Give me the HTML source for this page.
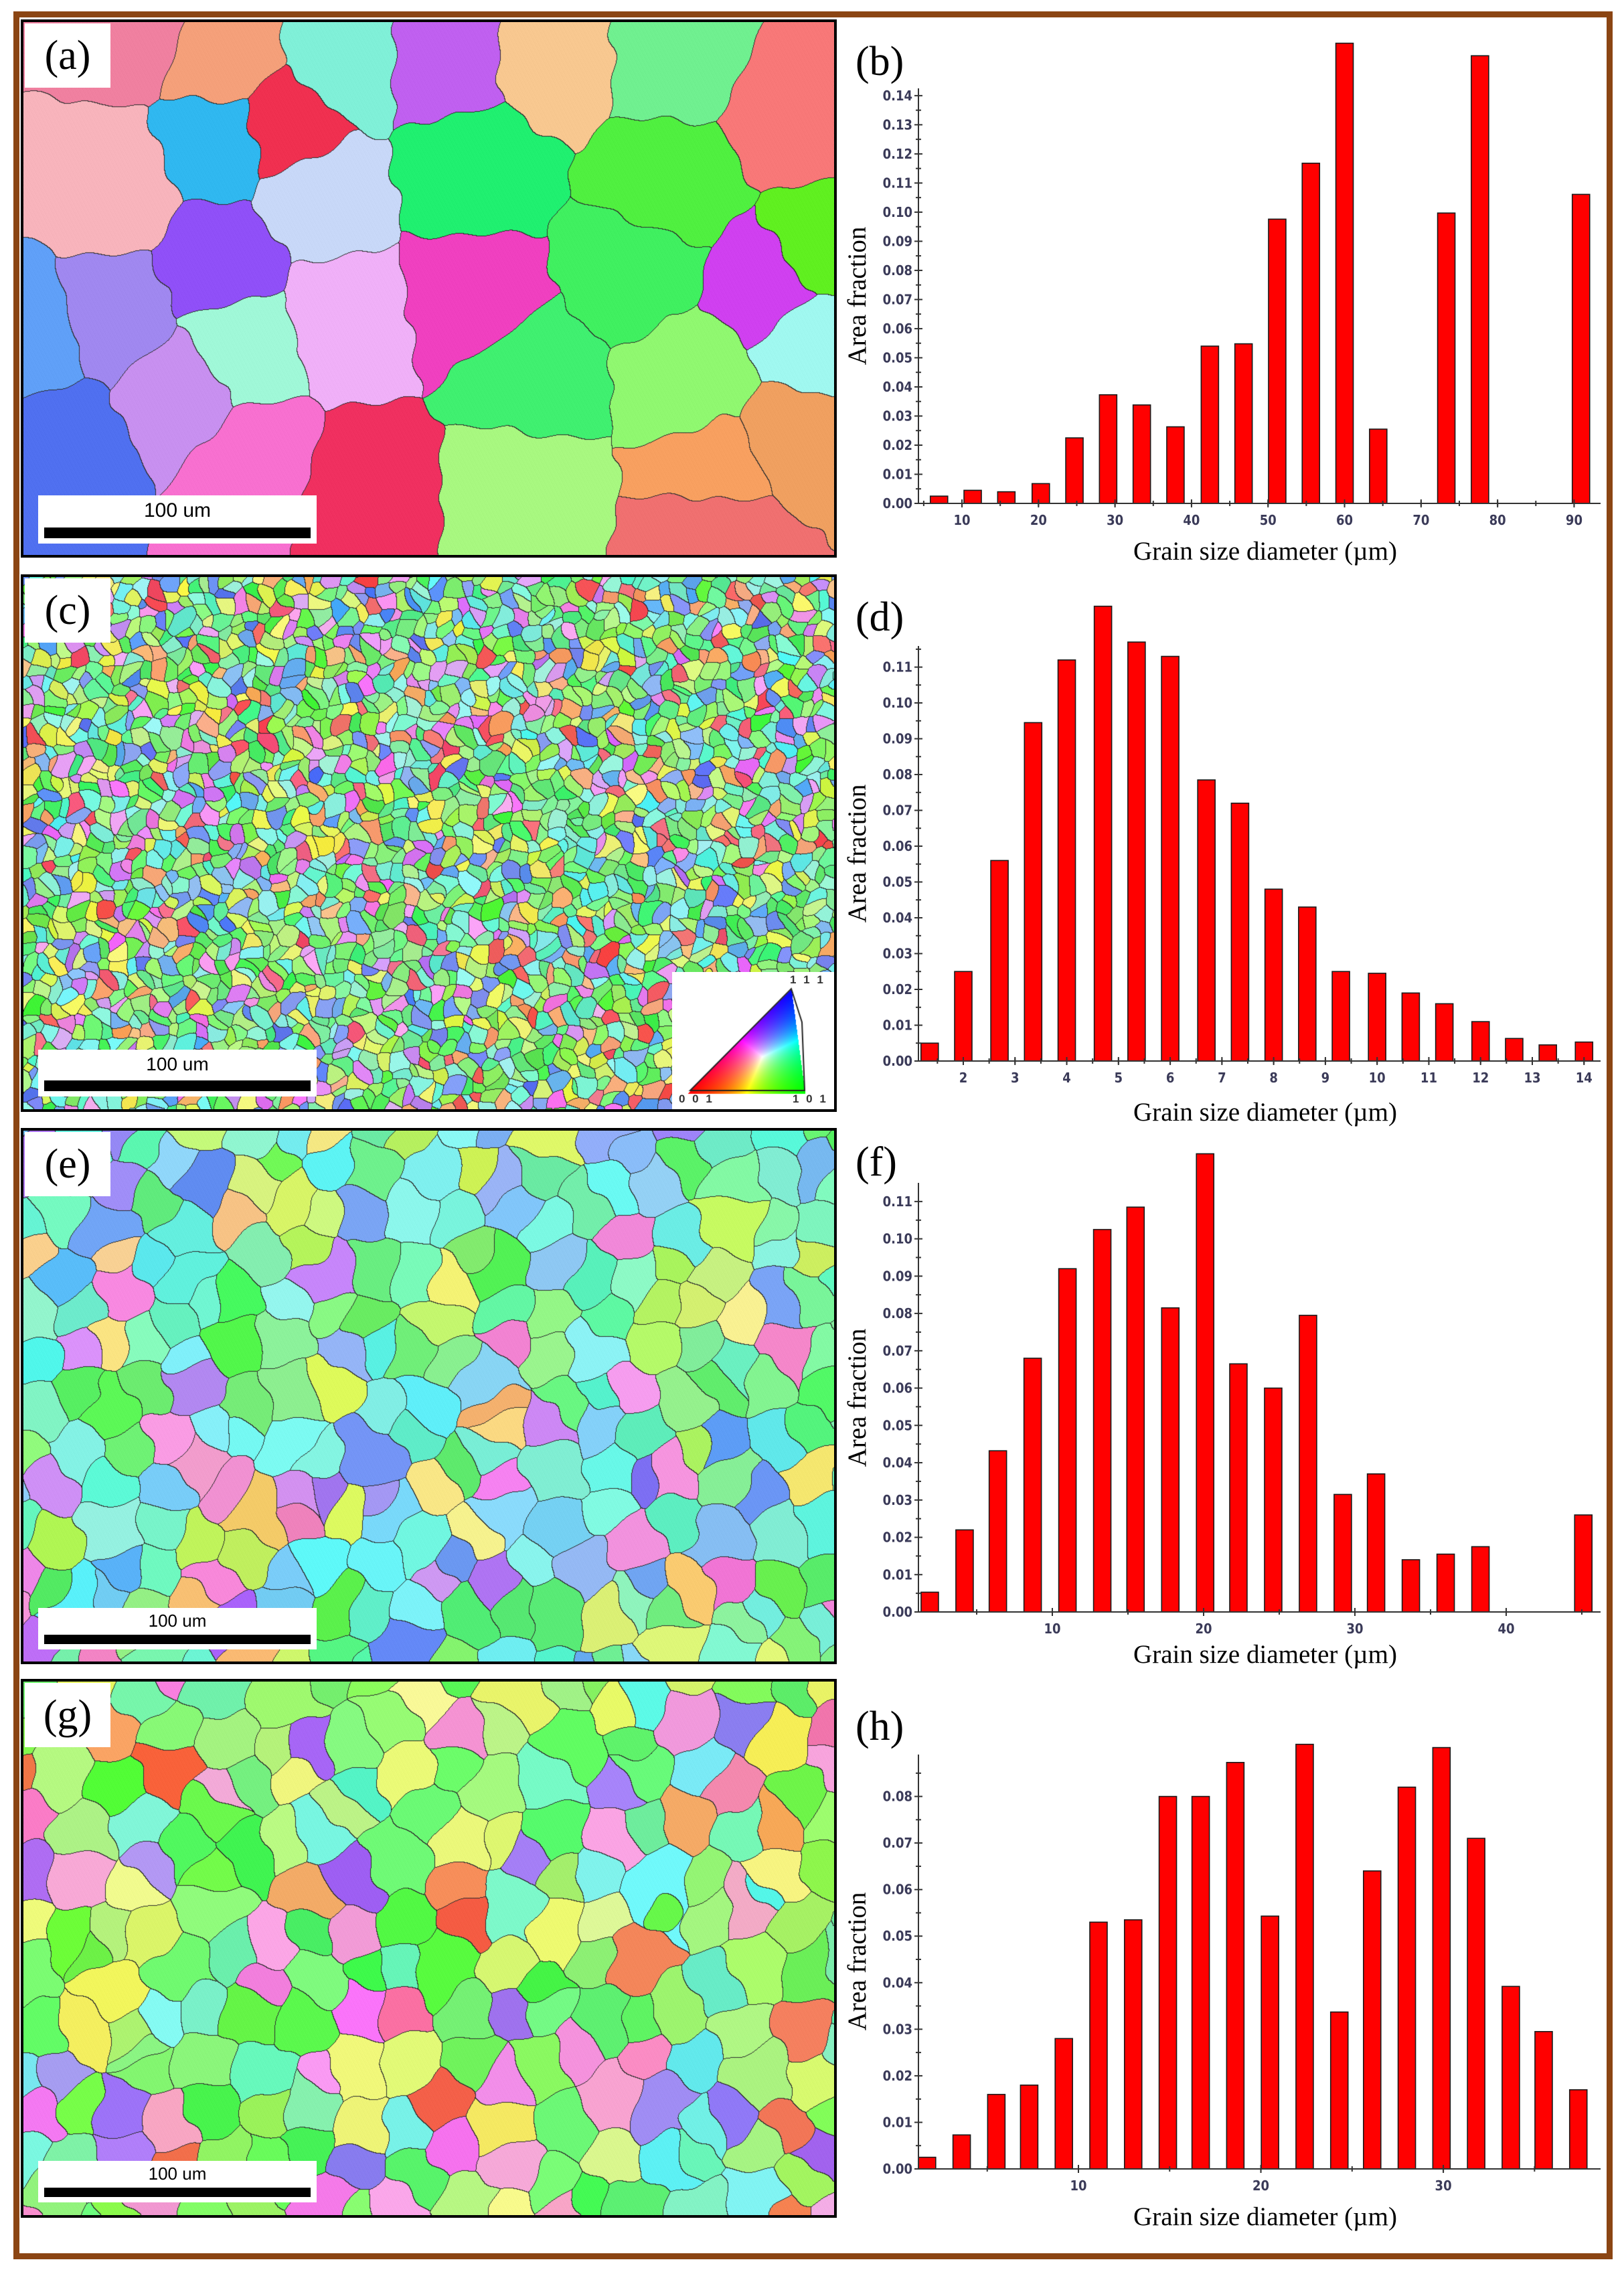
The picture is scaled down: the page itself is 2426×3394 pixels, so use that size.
<!DOCTYPE html>
<html><head><meta charset="utf-8">
<style>
html,body{margin:0;padding:0;background:#fff}
body{width:2426px;height:3394px;position:relative;overflow:hidden;font-family:"Liberation Serif",serif}
.outer{position:absolute;left:20px;top:17px;width:2371px;height:3340px;border:9px solid #8B4513}
.map{position:absolute;left:31px;width:1211px;border:4px solid #000;background:#ccc}
.map canvas{position:absolute;left:0;top:0}
.lbl{position:absolute;left:2px;top:2px;width:128px;height:96px;background:#fff;font-family:"Liberation Serif",serif;font-size:62px;line-height:96px;text-align:center}
.sb{position:absolute;left:22px;width:416px;background:#fff}
.sb span{position:absolute;left:0;right:0;text-align:center;font-family:"Liberation Sans",sans-serif;color:#000}
.sb i{position:absolute;left:9px;right:9px;height:16px;background:#000}
</style></head>
<body>
<div class="outer"></div>

<div class="map" id="mapA" style="top:29px;height:796px">
 <canvas id="cA" width="1211" height="796"></canvas>
 <div class="lbl">(a)</div>
 <div class="sb" style="top:707px;height:72px"><span style="top:6px;font-size:30px">100 um</span><i style="top:48px"></i></div>
</div>
<div class="map" id="mapC" style="top:858px;height:795px">
 <canvas id="cC" width="1211" height="795"></canvas>
 <div class="lbl">(c)</div>
 <div class="sb" style="top:706px;height:70px"><span style="top:6px;font-size:28px">100 um</span><i style="top:46px"></i></div>
 <div style="position:absolute;left:969px;top:590px;width:242px;height:205px;background:#fff">
  <canvas id="ipf" width="242" height="205"></canvas>
  <div style="position:absolute;left:176px;top:2px;font:bold 17px 'Liberation Sans',sans-serif;color:#333;letter-spacing:3px">1 1 1</div>
  <div style="position:absolute;left:10px;top:180px;font:bold 17px 'Liberation Sans',sans-serif;color:#333;letter-spacing:3px">0 0 1</div>
  <div style="position:absolute;left:180px;top:180px;font:bold 17px 'Liberation Sans',sans-serif;color:#333;letter-spacing:3px">1 0 1</div>
 </div>
</div>
<div class="map" id="mapE" style="top:1685px;height:793px">
 <canvas id="cE" width="1211" height="793"></canvas>
 <div class="lbl">(e)</div>
 <div class="sb" style="top:713px;height:62px"><span style="top:4px;font-size:26px">100 um</span><i style="top:40px;height:14px"></i></div>
</div>
<div class="map" id="mapG" style="top:2508px;height:797px">
 <canvas id="cG" width="1211" height="797"></canvas>
 <div class="lbl">(g)</div>
 <div class="sb" style="top:716px;height:62px"><span style="top:4px;font-size:26px">100 um</span><i style="top:40px;height:14px"></i></div>
</div>

<svg id="charts" width="2426" height="3394" style="position:absolute;left:0;top:0"></svg>

<script>
// ---------- chart data ----------
const bCats=[7.0,11.4,15.8,20.3,24.7,29.1,33.5,37.9,42.4,46.8,51.2,55.6,60.0,64.4,68.9,73.3,77.7,82.1,86.5,90.9];
const bVals=[0.0025,0.0045,0.004,0.0068,0.0225,0.0373,0.0338,0.0263,0.054,0.0548,0.0976,0.1168,0.158,0.0255,0,0.0997,0.1537,0,0,0.1061];
const bXTicks=[10,20,30,40,50,60,70,80,90];
const bYTicks=[0,0.01,0.02,0.03,0.04,0.05,0.06,0.07,0.08,0.09,0.10,0.11,0.12,0.13,0.14];

const dCats=[1.35,2.0,2.7,3.35,4.0,4.7,5.35,6.0,6.7,7.35,8.0,8.65,9.3,10.0,10.65,11.3,12.0,12.65,13.3,14.0];
const dVals=[0.005,0.025,0.056,0.0945,0.112,0.127,0.117,0.113,0.0785,0.072,0.048,0.043,0.025,0.0245,0.019,0.016,0.011,0.0063,0.0045,0.0053];
const dXTicks=[2,3,4,5,6,7,8,9,10,11,12,13,14];
const dYTicks=[0,0.01,0.02,0.03,0.04,0.05,0.06,0.07,0.08,0.09,0.10,0.11];

const fCats=[1.9,4.2,6.4,8.7,11.0,13.3,15.5,17.8,20.1,22.3,24.6,26.9,29.2,31.4,33.7,36.0,38.3,40.5,42.8,45.1];
const fVals=[0.0053,0.022,0.0432,0.068,0.092,0.1025,0.1085,0.0815,0.1228,0.0665,0.06,0.0795,0.0315,0.037,0.014,0.0155,0.0175,0,0,0.026];
const fXTicks=[10,20,30,40];
const fYTicks=[0,0.01,0.02,0.03,0.04,0.05,0.06,0.07,0.08,0.09,0.10,0.11];

const hCats=[1.7,3.6,5.5,7.3,9.2,11.1,13.0,14.9,16.7,18.6,20.5,22.4,24.3,26.1,28.0,29.9,31.8,33.7,35.5,37.4];
const hVals=[0.0025,0.0073,0.016,0.018,0.028,0.053,0.0535,0.08,0.08,0.0873,0.0543,0.0912,0.0337,0.064,0.082,0.0905,0.071,0.0392,0.0295,0.017];
const hXTicks=[10,20,30];
const hYTicks=[0,0.01,0.02,0.03,0.04,0.05,0.06,0.07,0.08];

const NS="http://www.w3.org/2000/svg";
const svg=document.getElementById('charts');
function mk(tag,attrs,parent){const e=document.createElementNS(NS,tag);for(const k in attrs)e.setAttribute(k,attrs[k]);(parent||svg).appendChild(e);return e;}

function drawChart(id,label,cats,vals,xTicks,yTicks,xDom,yDom,yPx,minorX,labelY,yTitleY,xTitleY){
  const X0=1372,X1=2391;
  const xs=v=>X0+(v-xDom[0])/(xDom[1]-xDom[0])*(X1-X0);
  const ys=v=>yPx[0]+(v-yDom[0])/(yDom[1]-yDom[0])*(yPx[1]-yPx[0]);
  const g=mk('g',{});
  
  
  cats.forEach((c,i)=>{
    if(vals[i]<=0)return;
    const cx=xs(c),top=ys(vals[i]),base=ys(0);
    const r=mk('rect',{x:cx-13,y:top,width:26,height:base-top,fill:'#ff0000',stroke:'#1a1a1a','stroke-width':1.6},g);
    
    
  });
  const ax=mk('line',{x1:X0,y1:ys(0),x2:X1,y2:ys(0),stroke:'#333','stroke-width':2},g);
  
  
  const ay=mk('line',{x1:X0,y1:ys(0),x2:X0,y2:ys(yDom[1]),stroke:'#333','stroke-width':2},g);
  
  
  yTicks.forEach(t=>{
    const y=ys(t);
    mk('line',{x1:X0-6,y1:y,x2:X0+6,y2:y,stroke:'#333','stroke-width':2},g);
    const tx=mk('text',{x:X0-9,y:y+7,'text-anchor':'end','font-family':'DejaVu Sans Condensed, DejaVu Sans, sans-serif','font-weight':'bold','font-size':20,fill:'#3a3a58'},g);
    tx.textContent=t.toFixed(2);
    
    
    const ym=ys(t+0.005);
    if(t+0.005<yDom[1]) mk('line',{x1:X0-4,y1:ym,x2:X0+4,y2:ym,stroke:'#333','stroke-width':2},g);
  });
  xTicks.forEach(t=>{
    const x=xs(t);
    mk('line',{x1:x,y1:ys(0)-6,x2:x,y2:ys(0)+6,stroke:'#333','stroke-width':2},g);
    const tx=mk('text',{x:x,y:ys(0)+32,'text-anchor':'middle','font-family':'DejaVu Sans Condensed, DejaVu Sans, sans-serif','font-weight':'bold','font-size':20,fill:'#3a3a58'},g);
    tx.textContent=String(t);
    
    
  });
  for(let m=Math.ceil(xDom[0]/minorX)*minorX;m<xDom[1];m+=minorX){
    const x=xs(m);
    mk('line',{x1:x,y1:ys(0)-4,x2:x,y2:ys(0)+4,stroke:'#333','stroke-width':2},g);
  }
  const pl=mk('text',{x:1278,y:labelY,'font-family':'Liberation Serif, serif','font-size':62,fill:'#000'},g);
  pl.textContent='('+label+')';
  
  
  const yt=mk('text',{x:0,y:0,transform:'translate(1293,'+yTitleY+') rotate(-90)','text-anchor':'middle','font-family':'Liberation Serif, serif','font-size':39,fill:'#000'},g);
  yt.textContent='Area fraction';
  
  
  const xt=mk('text',{x:1890,y:xTitleY,'text-anchor':'middle','font-family':'Liberation Serif, serif','font-size':39,fill:'#000'},g);
  xt.textContent='Grain size diameter (\u00b5m)';
  
  
}
drawChart('b','b',bCats,bVals,bXTicks,bYTicks,[4.31,93.46],[0,0.1425],[752,132],5,112,442,836);
drawChart('d','d',dCats,dVals,dXTicks,dYTicks,[1.133,14.32],[0,0.1159],[1585,965],0.5,942,1275,1674);
drawChart('f','f',fCats,fVals,fXTicks,fYTicks,[1.15,46.24],[0,0.115],[2408,1767],5,1756,2088,2484);
drawChart('h','h',hCats,hVals,hXTicks,hYTicks,[1.23,38.62],[0,0.089],[3240,2621],5,2599,2930,3324);

// ---------- EBSD maps ----------
function rng(seed){return function(){seed|=0;seed=seed+0x6D2B79F5|0;let t=Math.imul(seed^seed>>>15,1|seed);t=t+Math.imul(t^t>>>7,61|t)^t;return((t^t>>>14)>>>0)/4294967296;};}
function hsl(h,s,l){h=((h%360)+360)%360;s/=100;l/=100;const k=n=>(n+h/30)%12;const a=s*Math.min(l,1-l);const f=n=>l-a*Math.max(-1,Math.min(k(n)-3,Math.min(9-k(n),1)));return[Math.round(255*f(0)),Math.round(255*f(8)),Math.round(255*f(4))];}
function hex(c){return[parseInt(c.substr(1,2),16),parseInt(c.substr(3,2),16),parseInt(c.substr(5,2),16)];}

function render(canvas,seeds,cell){
  const W=canvas.width,H=canvas.height,ctx=canvas.getContext('2d');
  const img=ctx.createImageData(W,H),d=img.data;
  const ids=new Int32Array(W*H);
  let grid=null,gw=0,gh=0;
  if(cell){gw=Math.ceil(W/cell)+1;gh=Math.ceil(H/cell)+1;grid=[];for(let i=0;i<gw*gh;i++)grid.push([]);
    seeds.forEach((s,i)=>{const gx=Math.max(0,Math.min(gw-1,Math.floor(s[0]/cell))),gy=Math.max(0,Math.min(gh-1,Math.floor(s[1]/cell)));grid[gy*gw+gx].push(i);});}
  for(let y=0;y<H;y++)for(let x=0;x<W;x++){
    const px=x+4*Math.sin(y*0.09)+3*Math.sin(x*0.13+y*0.05),py=y+4*Math.sin(x*0.08)+3*Math.cos(y*0.11+x*0.03);
    let best=-1,bd=1e18;
    if(grid){const gx=Math.floor(x/cell),gy=Math.floor(y/cell);
      for(let j=gy-2;j<=gy+2;j++){if(j<0||j>=gh)continue;for(let i=gx-2;i<=gx+2;i++){if(i<0||i>=gw)continue;const L=grid[j*gw+i];for(let k=0;k<L.length;k++){const s=seeds[L[k]];const dx=px-s[0],dy=py-s[1],dd=(dx*dx+dy*dy)*s[3];if(dd<bd){bd=dd;best=L[k];}}}}}
    else{for(let k=0;k<seeds.length;k++){const s=seeds[k];const dx=px-s[0],dy=py-s[1],dd=(dx*dx+dy*dy)*s[3];if(dd<bd){bd=dd;best=k;}}}
    ids[y*W+x]=best;
  }
  for(let y=0;y<H;y++)for(let x=0;x<W;x++){
    const p=y*W+x,id=ids[p],c=seeds[id][2];
    const edge=(x<W-1&&ids[p+1]!==id)||(y<H-1&&ids[p+W]!==id);
    const o=p*4;
    if(edge){d[o]=45;d[o+1]=45;d[o+2]=45;}
    else{const n=((x*7+y*13)%11)-5;d[o]=Math.min(255,Math.max(0,c[0]+n));d[o+1]=Math.min(255,Math.max(0,c[1]+n));d[o+2]=Math.min(255,Math.max(0,c[2]+n));}
    d[o+3]=255;
  }
  ctx.putImageData(img,0,0);
}
function randomSeeds(W,H,cell,seed,pick){
  const r=rng(seed),S=[];
  for(let y=0;y<H+cell;y+=cell)for(let x=0;x<W+cell;x+=cell){
    const sx=x+(r()-0.5)*cell*0.9,sy=y+(r()-0.5)*cell*0.9;
    S.push([sx,sy,pick(r),0.7+r()*0.6]);
  }
  return S;
}
const aSeeds=[[332,84,'#f5a07a'],[166,280,'#f8b4bc'],[332,213,'#30b8f0'],[423,191,'#f03050'],[473,292,'#c8d8f8'],[514,84,'#80f0d8'],[663,84,'#c060f0'],[829,79,'#f8c890'],[705,252,'#20f070'],[995,280,'#50f040'],[1194,168,'#f87878'],[332,393,'#9050f8'],[166,477,'#a088f0'],[514,477,'#f0b0f8'],[705,449,'#f040c0'],[365,516,'#a0f8d8'],[788,561,'#40f070'],[1036,561,'#90f870'],[1153,432,'#d040f0'],[265,589,'#c890f0'],[100,662,'#5070f0'],[381,690,'#f870d0'],[547,730,'#f03060'],[771,730,'#a8f880'],[1078,701,'#f8a060'],[1078,786,'#f07070'],[1211,505,'#a0f8f0'],[1227,382,'#60f020'],[50,505,'#60a0f8'],[1000,80,'#70f090'],[200,40,'#f080a0'],[950,400,'#40f060'],[1180,660,'#f0a060']]
 .map(s=>[s[0]-35,s[1]-33,hex(s[2]),1]);
render(document.getElementById('cA'),aSeeds,0);

function pickW(list){return r=>{let t=r()*list.reduce((a,b)=>a+b[0],0);for(const it of list){t-=it[0];if(t<=0)return hsl(it[1]+(r()-0.5)*it[2],it[3]+r()*it[4],it[5]+r()*it[6]);}const it=list[0];return hsl(it[1],it[3],it[5]);};}
const palC=pickW([[5,125,40,70,25,58,18],[2,65,20,80,15,60,15],[3,170,25,70,25,62,18],[2,220,30,75,20,62,15],[2,290,40,70,25,68,15],[1,355,20,80,15,60,12],[1,25,15,85,10,65,12],[2,95,20,75,20,62,15]]);
const palE=pickW([[5,165,40,75,20,64,14],[4,125,30,75,20,62,14],[2,210,30,80,15,66,14],[1,265,40,75,20,68,10],[1,315,30,75,15,70,10],[1,45,30,85,10,68,10],[1,80,20,80,15,64,10]]);
const palG=pickW([[6,110,40,80,20,60,15],[2,65,25,85,10,64,15],[2,320,40,75,20,70,12],[1,20,25,85,10,60,10],[1,175,25,75,20,64,12],[1,260,30,75,20,66,12],[1,150,20,75,20,64,10]]);
render(document.getElementById('cC'),randomSeeds(1211,795,20,11,palC),20);
render(document.getElementById('cE'),randomSeeds(1211,793,66,23,palE),66);
render(document.getElementById('cG'),randomSeeds(1211,797,72,37,palG),72);

(function(){
  const c=document.getElementById('ipf'),ctx=c.getContext('2d');
  const W=c.width,H=c.height,img=ctx.createImageData(W,H),d=img.data;
  const A=[27,177],B=[198,177],C=[178,25];
  const den=(B[1]-C[1])*(A[0]-C[0])+(C[0]-B[0])*(A[1]-C[1]);
  for(let y=0;y<H;y++)for(let x=0;x<W;x++){
    const o=(y*W+x)*4;
    const l1=((B[1]-C[1])*(x-C[0])+(C[0]-B[0])*(y-C[1]))/den;
    const l2=((C[1]-A[1])*(x-C[0])+(A[0]-C[0])*(y-C[1]))/den;
    const l3=1-l1-l2;
    if(l1>=0&&l2>=0&&l3>=-0.03){const m=Math.max(l1,l2,Math.max(l3,0));d[o]=255*l1/m;d[o+1]=255*l2/m;d[o+2]=255*Math.max(l3,0)/m;}
    else{d[o]=255;d[o+1]=255;d[o+2]=255;}
    d[o+3]=255;
  }
  ctx.putImageData(img,0,0);
  ctx.strokeStyle='#222';ctx.lineWidth=2;ctx.beginPath();ctx.moveTo(A[0],A[1]);ctx.lineTo(B[0],B[1]);ctx.lineTo(B[0]-4,C[1]+50);ctx.lineTo(C[0],C[1]);ctx.closePath();ctx.stroke();
})();
</script>
</body></html>
